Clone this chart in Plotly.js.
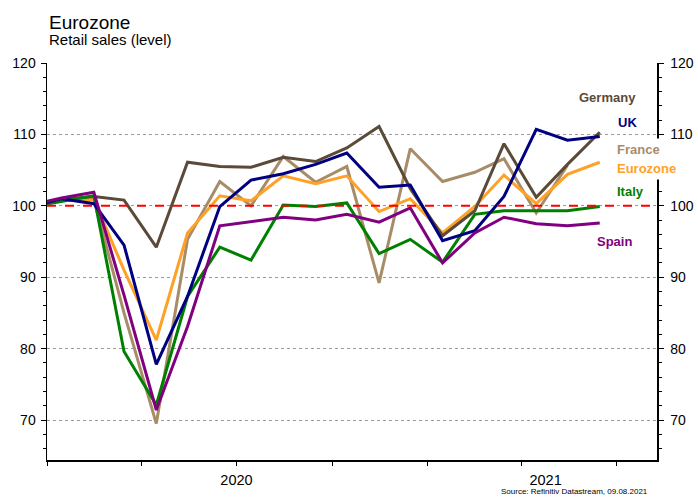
<!DOCTYPE html>
<html>
<head>
<meta charset="utf-8">
<script src="https://cdn.plot.ly/plotly-3.0.1.min.js"></script>
<style>html,body{margin:0;padding:0;background:#fff;}#chart{width:698px;height:499px;}</style>
</head>
<body>
<div id="chart"></div>
<script>
// Monthly observations (plotted mid-month), Dec 2019 .. Jun 2021
var months = ['2019-12-15','2020-01-15','2020-02-15','2020-03-15','2020-04-15','2020-05-15','2020-06-15',
  '2020-07-15','2020-08-15','2020-09-15','2020-10-15','2020-11-15','2020-12-15',
  '2021-01-15','2021-02-15','2021-03-15','2021-04-15','2021-05-15','2021-06-15'];

var germany  = [100.1,100.9,101.3,100.8, 94.2,106.1,105.5,105.4,106.8,106.2,108.1,111.1,102.4, 95.8, 99.3,108.7,101.2,105.8,110.3];
var uk       = [ 99.8,101.0,100.3, 94.5, 77.8, 87.3, 99.9,103.6,104.5,105.8,107.4,102.6,102.9, 95.1, 96.5,101.3,110.7,109.2,109.7];
var france   = [100.2,100.8,100.9, 85.0, 69.5, 95.3,103.4,100.0,106.9,103.3,105.5, 89.2,108.0,103.4,104.7,106.6, 99.0,105.7, null];
var eurozone = [100.2,100.8,100.9, 91.0, 81.2, 96.2,101.4,100.7,104.2,103.1,104.2, 99.2,101.0, 96.2, 99.9,104.3,100.3,104.4,106.1];
var italy    = [ 99.8,100.6,101.4, 79.6, 72.1, 87.3, 94.2, 92.4,100.1, 99.9,100.4, 93.3, 95.3, 92.1, 98.8, 99.3, 99.3, 99.3, 99.9];
var spain    = [100.1,101.1,101.9, 87.5, 71.4, 83.1, 97.2, 97.8, 98.4, 98.0, 98.8, 97.7, 99.7, 92.0, 96.2, 98.4, 97.5, 97.2, 97.6];

var seriesNames = ['France','Eurozone','Germany','Italy','UK','Spain'];
var yearLabels = ['2020','2021'];
var titleText = 'Eurozone';
var subtitleText = 'Retail sales (level)';
var sourceText = 'Source: Refinitiv Datastream, 09.08.2021';
var refLevel = 100;

var FONT = 'Liberation Sans, Arial, sans-serif';
var colors = {France:'#a88c68', Eurozone:'#ffa126', Germany:'#5b4a37', Italy:'#008000', UK:'#000080', Spain:'#800080'};
var dataMap = {France:france, Eurozone:eurozone, Germany:germany, Italy:italy, UK:uk, Spain:spain};

var xRange = ['2020-01-01','2021-08-09'];
var yRange = [64.4, 120];

var traces = seriesNames.map(function(n){
  return {x: months, y: dataMap[n], type:'scatter', mode:'lines', name:n,
    line:{color:colors[n], width:3}, connectgaps:false, showlegend:false, hoverinfo:'skip'};
});

// plot box in px: left 47, right 657, top 63, bottom 460
function px2paperX(px){ return (px-47)/610; }
function px2paperY(py){ return (460-py)/397; }

var labelPos = {
  Germany:[607,97,false], UK:[627.5,123,true], France:[638.5,149.5,true],
  Eurozone:[646.5,168,true], Italy:[630,191,false], Spain:[614,241,false]
};
var annotations = [];
seriesNames.forEach(function(n){
  var p = labelPos[n];
  annotations.push({xref:'paper', yref:'paper', x:px2paperX(p[0]), y:px2paperY(p[1]),
    xanchor:'center', yanchor:'middle', showarrow:false, text:'<b>'+n+'</b>',
    font:{family:FONT, size:13, color:colors[n]},
    bgcolor: p[2] ? '#ffffff' : 'rgba(0,0,0,0)', borderpad:3});
});
annotations.push({xref:'paper', yref:'paper', x:0, y:px2paperY(22), xanchor:'left', yanchor:'middle',
  showarrow:false, text:titleText, font:{family:FONT, size:19, color:'#000'}});
annotations.push({xref:'paper', yref:'paper', x:0, y:px2paperY(40), xanchor:'left', yanchor:'middle',
  showarrow:false, text:subtitleText, font:{family:FONT, size:15, color:'#000'}});
annotations.push({xref:'paper', yref:'paper', x:px2paperX(650), y:px2paperY(491), xanchor:'right', yanchor:'middle',
  showarrow:false, text:sourceText, font:{family:FONT, size:8, color:'#000'}});

var yAxisCommon = {
  range:yRange, tick0:0, dtick:10, ticks:'outside', ticklen:5, tickwidth:1, tickcolor:'#000',
  showline:true, linecolor:'#000', linewidth:1.5, zeroline:false,
  tickfont:{family:FONT, size:14, color:'#000'},
  minor:{dtick:2, tick0:0, ticks:'outside', ticklen:3, tickcolor:'#000', showgrid:false}
};

var layout = {
  width:698, height:499,
  margin:{l:47, r:41, t:63, b:39},
  paper_bgcolor:'#fff', plot_bgcolor:'#fff',
  showlegend:false,
  xaxis:{type:'date', range:xRange, showgrid:false, zeroline:false,
    showline:true, linecolor:'#000', linewidth:2,
    tickmode:'array', tickvals:['2020-01-01','2021-01-01'], ticktext:['',''],
    ticks:'outside', ticklen:7, tickcolor:'#000', showticklabels:false,
    minor:{tick0:'2020-01-01', dtick:'M3', ticks:'outside', ticklen:4, tickcolor:'#000', showgrid:false}},
  xaxis2:{type:'date', overlaying:'x', anchor:'y', side:'bottom', range:xRange,
    showgrid:false, zeroline:false, showline:false, ticks:'',
    tickmode:'array', tickvals:['2020-07-01','2021-04-24'], ticktext:yearLabels,
    ticklabelstandoff:9, tickfont:{family:FONT, size:14.5, color:'#000'}},
  yaxis:Object.assign({}, yAxisCommon, {side:'left', showgrid:true, gridcolor:'#9a9a9a', griddash:'dot', gridwidth:1, ticklabelstandoff:2}),
  yaxis2:Object.assign({}, yAxisCommon, {side:'right', overlaying:'y', anchor:'x', showgrid:false, ticklabelstandoff:4}),
  shapes:[{type:'line', xref:'paper', x0:0, x1:1, yref:'y', y0:refLevel, y1:refLevel,
    line:{color:'#ff0000', width:2, dash:'dash'}, layer:'above'}],
  annotations:annotations
};

// an invisible helper trace so the overlay axes are laid out
traces.push({x:[xRange[0]], y:[refLevel], xaxis:'x2', yaxis:'y2', type:'scatter', mode:'markers',
  marker:{opacity:0}, showlegend:false, hoverinfo:'skip'});

Plotly.newPlot('chart', traces, layout, {displayModeBar:false, staticPlot:true});
</script>
</body>
</html>
